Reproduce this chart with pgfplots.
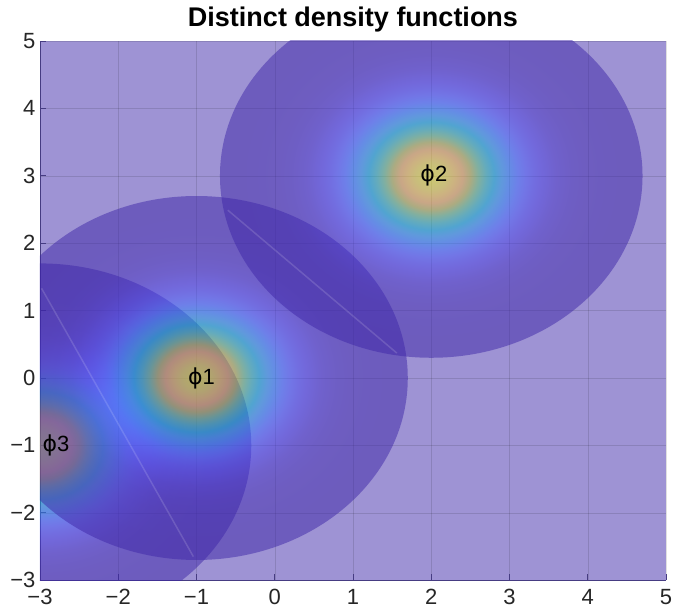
\documentclass[border=0pt]{standalone}
\usepackage{pgfplots}
\pgfplotsset{compat=1.18}
\usepackage{pgfplotstable}
\usepackage{fontspec}
\setmainfont{Liberation Sans}
\newfontfamily\phifont{DejaVu Sans}

% parula colours along the radial profile of each density
\definecolor{pc00}{rgb}{0.9769,0.9839,0.0805}
\definecolor{pc01}{rgb}{0.9710,0.9650,0.1010}
\definecolor{pc02}{rgb}{0.9598,0.9113,0.1433}
\definecolor{pc03}{rgb}{0.9860,0.8210,0.1850}
\definecolor{pc04}{rgb}{0.9590,0.7290,0.2280}
\definecolor{pc05}{rgb}{0.7290,0.7690,0.1880}
\definecolor{pc06}{rgb}{0.4020,0.8030,0.4260}
\definecolor{pc07}{rgb}{0.1760,0.7690,0.6490}
\definecolor{pc08}{rgb}{0.0220,0.7120,0.8090}
\definecolor{pc09}{rgb}{0.1390,0.6260,0.8980}
\definecolor{pc10}{rgb}{0.1780,0.5310,0.9670}
\definecolor{pc11}{rgb}{0.2460,0.4330,0.9980}
\definecolor{pc12}{rgb}{0.2780,0.3560,0.9770}
\definecolor{pc13}{rgb}{0.2810,0.2910,0.9310}
\definecolor{pc14}{rgb}{0.2790,0.2450,0.8850}
\definecolor{pc16}{rgb}{0.2620,0.1910,0.7760}
\definecolor{pc18}{rgb}{0.2510,0.1670,0.7120}
\definecolor{pc20}{rgb}{0.2460,0.1570,0.6800}
\definecolor{pcmin}{rgb}{0.2422,0.1504,0.6603}
\definecolor{lilac}{rgb}{0.6211,0.5752,0.8302}
\definecolor{axisline}{RGB}{70,60,130}
\definecolor{ticktext}{RGB}{38,38,38}

% radial fill: 25bp corresponds to the disc radius of 2.7
\pgfdeclareradialshading{densityfill}{\pgfpointorigin}{%
  color(0bp)=(pc00); color(0.93bp)=(pc01); color(1.85bp)=(pc02);
  color(2.78bp)=(pc03); color(3.70bp)=(pc04); color(4.63bp)=(pc05);
  color(5.56bp)=(pc06); color(6.48bp)=(pc07); color(7.41bp)=(pc08);
  color(8.33bp)=(pc09); color(9.26bp)=(pc10); color(10.19bp)=(pc11);
  color(11.11bp)=(pc12); color(12.04bp)=(pc13); color(12.96bp)=(pc14);
  color(14.81bp)=(pc16); color(16.67bp)=(pc18); color(18.52bp)=(pc20);
  color(22bp)=(pcmin); color(50bp)=(pcmin)}

% one translucent density disc, radius \discr in axis units
\newcommand{\xunit}{78.25bp}
\newcommand{\yunit}{67.4bp}
\pgfdeclareplotmark{densitydisc}{%
  \pgfpathellipse{\pgfpointorigin}%
    {\pgfpoint{\discr*\xunit}{0pt}}{\pgfpoint{0pt}{\discr*\yunit}}%
  \pgfsetfillopacity{0.5}%
  \pgfshadepath{densityfill}{0}%
  \pgfusepath{discard}%
}

\pgfplotstableread{
x    y    r
-3   -1   2.7
-1    0   2.7
 2    3   2.7
}\densitycentres

\pgfplotstableread{
x      y     label
-2.97  -1.0  3
-1.11   0.0  1
 1.86   3.0  2
}\densitylabels

\begin{document}
\begin{tikzpicture}
\begin{axis}[
  x=\xunit, y=\yunit,
  xmin=-3, xmax=5, ymin=-3, ymax=5,
  xtick={-3,...,5}, ytick={-3,...,5},
  xticklabels={−3,−2,−1,0,1,2,3,4,5},
  yticklabels={−3,−2,−1,0,1,2,3,4,5},
  axis x line*=bottom, axis y line*=left,
  axis line style={draw=axisline, line width=0.8bp},
  tick style={draw=axisline, line width=0.8bp},
  major tick length=6bp, tick align=inside,
  axis background/.style={fill=lilac},
  grid=major,
  grid style={draw=black, opacity=0.12, line width=0.5bp},
  ticklabel style={font=\fontsize{22bp}{26bp}\selectfont, text=ticktext},
  xticklabel style={yshift=-5.5bp},
  yticklabel style={xshift=-1bp},
  title={Distinct density functions},
  title style={font=\fontsize{27bp}{31bp}\selectfont\bfseries,
    at={(0.5,1)}, anchor=base, yshift=9bp},
  clip marker paths=true,
]
\addplot[only marks, mark=densitydisc,
  visualization depends on={\thisrow{r} \as \discr}]
  table[x=x, y=y] {\densitycentres};

% thin seams across the overlap lenses
\addplot[draw=white, draw opacity=0.14, line width=1.5bp]
  coordinates {(-0.60,2.49) (1.56,0.37)};
\addplot[draw=white, draw opacity=0.14, line width=1.5bp]
  coordinates {(-2.98,1.33) (-1.04,-2.65)};

\addplot[draw=none, mark=none,
  nodes near coords={{\phifont ϕ}\pgfplotspointmeta},
  point meta=explicit symbolic,
  every node near coord/.style={anchor=west, inner sep=0pt,
    font=\fontsize{22bp}{26bp}\selectfont, text=black}]
  table[x=x, y=y, meta=label] {\densitylabels};
\end{axis}
\pgfresetboundingbox
\path[use as bounding box]
  ([xshift=-40bp,yshift=-35bp]current axis.south west)
  rectangle ([xshift=12bp,yshift=41bp]current axis.north east);
\end{tikzpicture}
\end{document}
